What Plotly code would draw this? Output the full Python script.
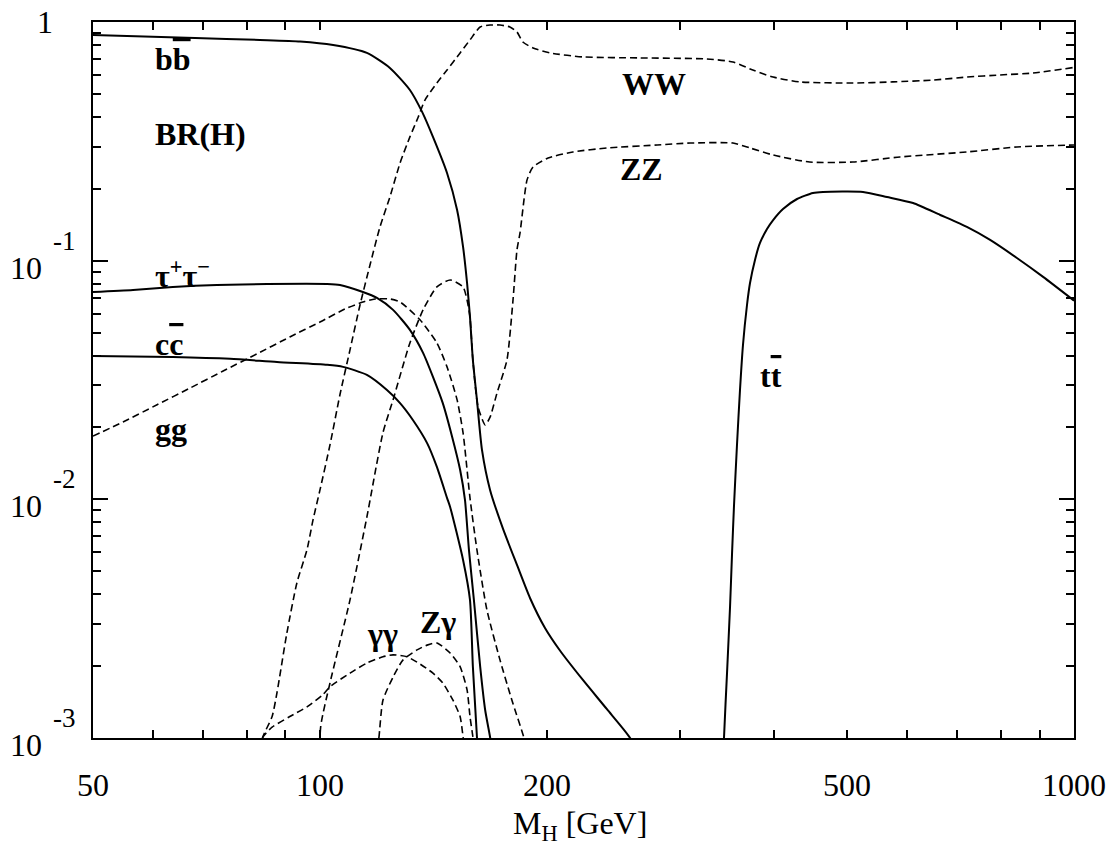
import math
import plotly.graph_objects as go

# ---------------- data ----------------
M_bb = [50, 68.3, 83.2, 94.1, 104.1, 115.4, 123.8, 131.6, 136.6, 141.2, 147.4, 152.0, 154.8,
        156.7, 158.1, 159.5, 161.5, 164.0, 168.1, 174.9, 182.5, 189.9, 198.8, 208.2, 223.2, 240.2,
        257.8, 266]
BR_bb = [0.882, 0.857, 0.841, 0.829, 0.801, 0.742, 0.642, 0.519, 0.420, 0.330, 0.233, 0.1631, 0.1141,
         0.0806, 0.0581, 0.0384, 0.0261, 0.0161, 0.01095, 0.00752, 0.00531, 0.00386, 0.00289, 0.00232,
         0.00175, 0.00132, 0.001, 0.0008]

M_tautau = [50, 56.5, 63.8, 73.0, 85.1, 102.2, 106.3, 114, 119.0, 125, 131.6, 137.0, 141.2, 145.5,
            149.7, 153.4, 155.7, 157.6, 160.0, 163.1, 165.6, 168.1, 169]
BR_tautau = [0.0739, 0.0754, 0.0776, 0.0791, 0.0798, 0.0798, 0.0791, 0.0739, 0.0698, 0.0622, 0.0513, 0.0411,
             0.0326, 0.0253, 0.0183, 0.0133, 0.00994, 0.00614, 0.00379, 0.00199, 0.00131, 0.00101, 0.0009]

M_cc = [50, 63.8, 76.0, 87.7, 102.2, 107.3, 115.4, 122.7, 127.7, 132.8, 138.7, 142.9, 147.4, 148.8,
        154.8, 158.1, 159.5, 161.5, 162]
BR_cc = [0.0399, 0.0395, 0.0388, 0.0376, 0.0366, 0.0359, 0.0332, 0.0287, 0.0253, 0.0215, 0.0172, 0.01367,
         0.01014, 0.00929, 0.00557, 0.00379, 0.00199, 0.00101, 0.0008]

M_gg = [50, 54.8, 60.8, 67.3, 74.4, 82.5, 91.2, 100.0, 108.0, 114, 118.3, 123.8, 127.7, 135.8, 142.9,
        147.4, 152.0, 154.8, 158.1, 161.5, 166.5, 173.3, 179.7, 186.5, 190]
BR_gg = [0.0184, 0.0211, 0.0249, 0.0293, 0.0345, 0.0407, 0.0479, 0.0553, 0.0628, 0.0671, 0.0691, 0.0691,
         0.0671, 0.0564, 0.0452, 0.0359, 0.0261, 0.019, 0.01014, 0.00614, 0.00344, 0.00212, 0.00144, 0.001,
         0.0008]

M_WW = [83, 84.0, 86.4, 87.7, 90.4, 93.2, 96.1, 97.9, 100.0, 103.1, 106.3, 109.6, 113.0, 116.5, 120.1,
        123.8, 127.7, 131.6, 135.0, 137.8, 142.9, 147.4, 153.4, 158.1, 163.1, 168.1, 173.3, 178.6,
        182.5, 185.8, 191.7, 201.9, 223.2, 265.7, 326, 353, 375, 399, 433, 509, 575, 650, 721, 798,
        882, 1000]
BR_WW = [0.0008, 0.00101, 0.00123, 0.00155, 0.00276, 0.00447, 0.00614, 0.0082, 0.01095, 0.0169, 0.0275,
         0.0423, 0.0652, 0.0959, 0.1384, 0.1848, 0.2566, 0.330, 0.400, 0.471, 0.555, 0.629, 0.742, 0.841,
         0.953, 0.971, 0.971, 0.953, 0.908, 0.825, 0.778, 0.742, 0.714, 0.707, 0.700, 0.680, 0.629, 0.588,
         0.561, 0.555, 0.561, 0.571, 0.588, 0.600, 0.611, 0.645]

M_ZZ = [100, 100.2, 103.1, 109.6, 115.4, 121.2, 125, 131.6, 137.0, 142.9, 148.8, 154.8, 156.7, 158.1,
        159.5, 162.0, 165.6, 168.1, 171.7, 177.0, 180.3, 182.5, 184.2, 188.2, 191.7, 200.7, 216.5, 240.2,
        280, 309.8, 353, 371.8, 399, 446, 509, 587.7, 721, 840, 1000]
BR_ZZ = [0.0005, 0.00111, 0.0017, 0.00379, 0.00844, 0.019, 0.0261, 0.0452, 0.0622, 0.0776, 0.083, 0.0776,
         0.0684, 0.0581, 0.0384, 0.0245, 0.0205, 0.0221, 0.0279, 0.0384, 0.0684, 0.111, 0.1306, 0.218,
         0.247, 0.2692, 0.2854, 0.2966, 0.3053, 0.311, 0.311, 0.2966, 0.2772, 0.259, 0.259, 0.272, 0.2854,
         0.2995, 0.3053]

M_gamgam = [83, 84.0, 86.4, 91.2, 96.1, 100.9, 103.1, 109.6, 115.4, 121.2, 125, 130.4, 134.5, 141.2,
            145.5, 150.1, 153.4, 154.8, 155.5]
BR_gamgam = [0.0009, 0.00101, 0.00111, 0.00123, 0.00135, 0.00152, 0.00164, 0.00187, 0.00206, 0.00219,
             0.00223, 0.00219, 0.00208, 0.00187, 0.0017, 0.00144, 0.00123, 0.00101, 0.0009]

M_Zgam = [119, 119.7, 121.2, 125, 128.8, 134.5, 138.7, 142.9, 148.8, 153.4, 156.7, 158.1, 159.5, 160]
BR_Zgam = [0.0009, 0.001, 0.00144, 0.0018, 0.00212, 0.00234, 0.00245, 0.0025, 0.00227, 0.00199, 0.00159,
           0.00123, 0.00101, 0.0009]

M_tt = [343, 343.4, 346.6, 349.8, 351.9, 354.1, 357.3, 360.6, 363.9, 368.4, 371.8, 377.5, 383.3, 391.6,
        399, 411.2, 429.2, 450.6, 464.6, 525, 565, 611.8, 664.6, 721, 774, 840, 910, 1000]
BR_tt = [0.0008, 0.001, 0.00187, 0.00354, 0.00585, 0.00947, 0.0169, 0.0287, 0.0443, 0.0652, 0.0806,
         0.1007, 0.1186, 0.1358, 0.148, 0.1646, 0.1813, 0.192, 0.194, 0.194, 0.1848, 0.1744, 0.1554,
         0.1384, 0.1221, 0.1026, 0.0855, 0.068]

x_major = [50, 100, 200, 500, 1000]
x_major_text = ["50", "100", "200", "500", "1000"]
x_minor = [60, 70, 80, 90, 300, 400, 600, 700, 800, 900]
y_major = [0.001, 0.01, 0.1, 1]
y_minor = [k * 10 ** d for d in (-3, -2, -1) for k in range(2, 10)]
y_label_mantissa = ["10", "10", "10"]
y_label_exponent = ["-3", "-2", "-1"]

# curve labels: text, mass, BR
labels = [
    ("b<span style='text-decoration:overline'>b</span>", 60, 0.70),
    ("BR(H)", 60, 0.34),
    ("τ<sup>+</sup>τ<sup>−</sup>", 60, 0.088),
    ("c<span style='text-decoration:overline'>c</span>", 60, 0.0448),
    ("gg", 60, 0.0197),
    ("WW", 250, 0.55),
    ("ZZ", 248.5, 0.242),
    ("t<span style='text-decoration:overline'>t</span>", 381, 0.0329),
    ("γγ", 114.7, 0.00273),
    ("Zγ", 135, 0.00306),
]

# ---------------- figure ----------------
SERIF = "Liberation Serif"
fig = go.Figure()

curves = [
    (M_bb, BR_bb, "solid"), (M_tautau, BR_tautau, "solid"), (M_cc, BR_cc, "solid"),
    (M_tt, BR_tt, "solid"),
    (M_gg, BR_gg, "dash"), (M_WW, BR_WW, "dash"), (M_ZZ, BR_ZZ, "dash"),
    (M_gamgam, BR_gamgam, "dash"), (M_Zgam, BR_Zgam, "dash"),
]
for xs, ys, style in curves:
    fig.add_trace(go.Scatter(
        x=xs, y=ys, mode="lines",
        line=dict(color="black", width=2 if style == "solid" else 1.6,
                  dash="solid" if style == "solid" else "7px,4px",
                  shape="spline", smoothing=0.6),
        showlegend=False, hoverinfo="skip"))

for text, m, br in labels:
    fig.add_annotation(x=math.log10(m), y=math.log10(br), xref="x", yref="y",
                       text="<b>" + text + "</b>", showarrow=False,
                       xanchor="left", yanchor="middle",
                       font=dict(family=SERIF, size=32, color="black"))

# y tick labels
fig.add_annotation(x=(45 - 93) / 981, y=0, xref="paper", yref="y", text="1",
                   showarrow=False, xanchor="center", yanchor="middle",
                   font=dict(family=SERIF, size=32, color="black"))
for v, man, ex in zip(y_major[:3], y_label_mantissa, y_label_exponent):
    fig.add_annotation(x=(26 - 93) / 981, y=math.log10(v), xref="paper", yref="y", text=man,
                       showarrow=False, xanchor="center", yanchor="middle", yshift=-7,
                       font=dict(family=SERIF, size=32, color="black"))
    fig.add_annotation(x=(64 - 93) / 981, y=math.log10(v), xref="paper", yref="y", text=ex,
                       showarrow=False, xanchor="center", yanchor="middle", yshift=20,
                       font=dict(family=SERIF, size=27, color="black"))

# x-axis title
fig.add_annotation(x=(580 - 93) / 981, y=(738 - 825) / 716, xref="paper", yref="paper",
                   text="M<sub>H</sub> [GeV]", showarrow=False, xanchor="center", yanchor="middle",
                   font=dict(family=SERIF, size=32, color="black"))

axis_common = dict(type="log", showgrid=False, zeroline=False, showline=True, linecolor="black",
                   linewidth=1.5, mirror="ticks", ticks="inside", tickcolor="black", tickwidth=1.5)

fig.update_layout(
    width=1119, height=846, autosize=False,
    margin=dict(l=93, r=45, t=22, b=108),
    plot_bgcolor="white", paper_bgcolor="white", showlegend=False,
    xaxis=dict(**axis_common, range=[math.log10(50), 3], tickmode="array", tickvals=x_major,
               ticktext=x_major_text, ticklen=8, ticklabelstandoff=18,
               tickfont=dict(family=SERIF, size=32, color="black"),
               minor=dict(tickmode="array", tickvals=x_minor, ticks="inside", ticklen=8,
                          tickwidth=1.5, tickcolor="black", showgrid=False)),
    yaxis=dict(**axis_common, range=[-3, 0], tickmode="array", tickvals=y_major, ticklen=15,
               showticklabels=False,
               minor=dict(tickmode="array", tickvals=y_minor, ticks="inside", ticklen=8,
                          tickwidth=1.5, tickcolor="black", showgrid=False)),
)

fig.write_html("out.html", config={"displayModeBar": False},
               post_script="document.body.style.margin='0';")
